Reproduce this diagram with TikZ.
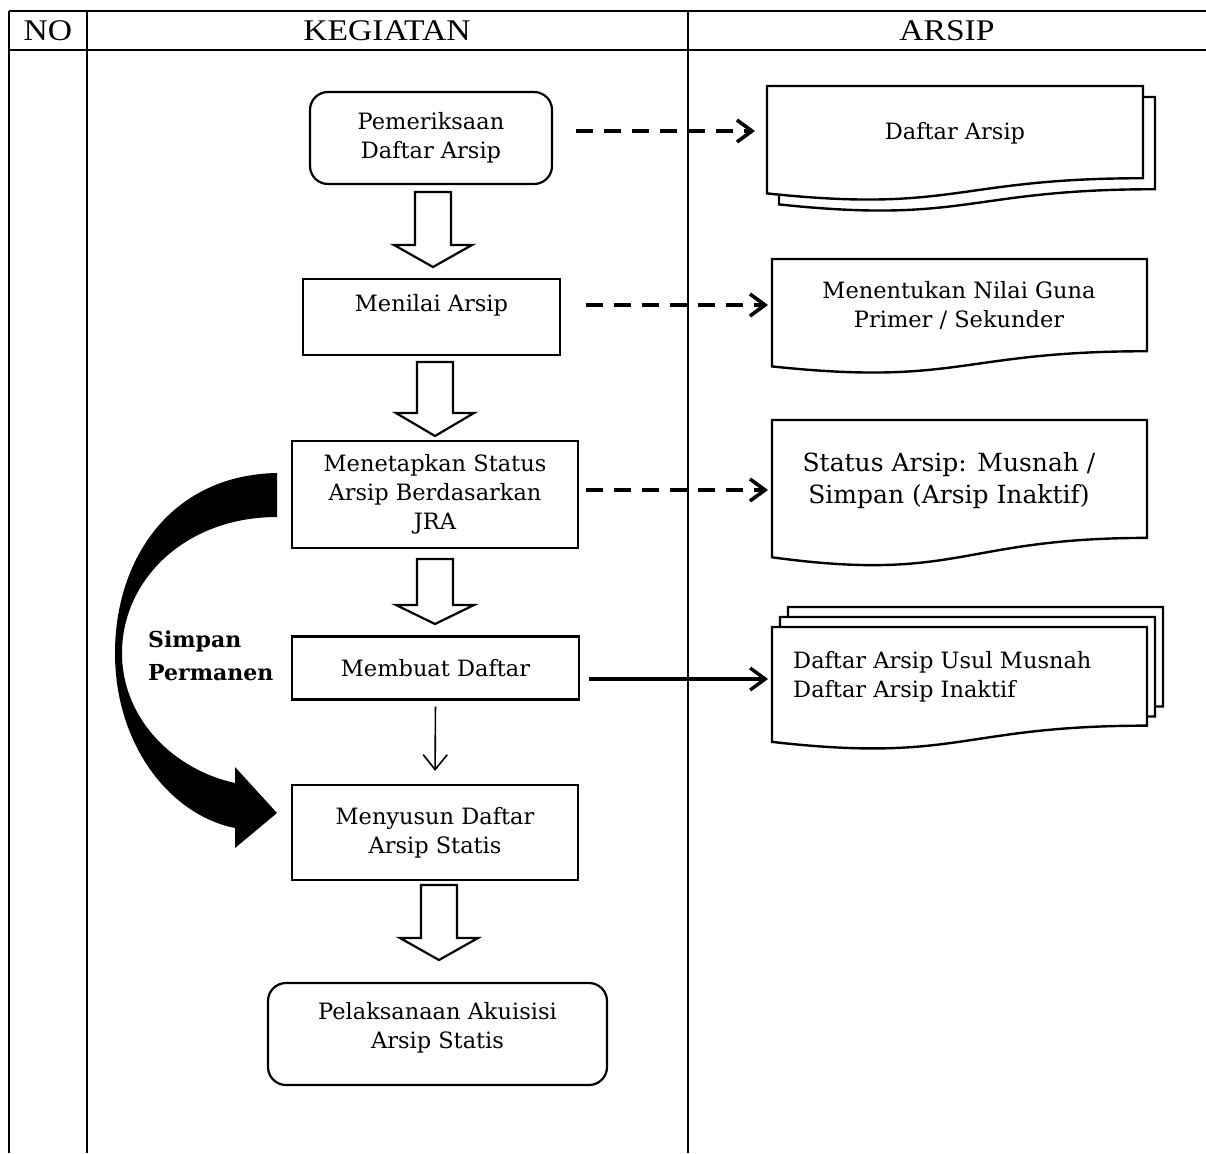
\documentclass[tikz,border=0pt]{standalone}
\usepackage{fontspec}
\setmainfont{DejaVu Serif}
\newfontfamily\hdrfont{Liberation Serif}
\usetikzlibrary{arrows.meta,calc}
\tikzset{
  gridline/.style={line width=2.4pt},
  midline/.style={line width=2pt},
  proc/.style={draw, line width=2.2pt, rectangle, align=center, inner sep=0pt,
    font=\fontsize{22.5}{29}\selectfont},
  term/.style={proc, rounded corners=18pt},
  blk/.style={draw, line width=2.2pt, fill=white, line join=miter},
  docline/.style={draw, line width=2.4pt, fill=white},
  doctext/.style={font=\fontsize{22.5}{29}\selectfont, align=center, inner sep=0pt},
  hdr/.style={font=\hdrfont\fontsize{30}{32}\selectfont, inner sep=0pt},
  dasharr/.style={line width=3.6pt, dash pattern=on 17pt off 11pt,
    -{Straight Barb[length=15pt,width=22pt]}},
  solidarr/.style={line width=3.4pt, -{Straight Barb[length=15pt,width=22pt]}},
  thinarr/.style={line width=1.6pt, -{Straight Barb[length=15pt,width=24pt]}},
}
\newcommand\docshape[4]{%
  \path[docline] (#1,#2) -- (#3,#2) -- (#3,{#2+0.802*#4})
    .. controls ({(#1+#3)/2},{#2+0.802*#4}) and ({(#1+#3)/2},{#2+1.1075*#4})
    .. (#1,{#2+0.934*#4}) -- cycle;}
\newcommand\blockarrow[4]{%
  \draw[blk] ({#1-18},#2) -- ({#1+18},#2) -- ({#1+18},#3) -- ({#1+39},#3)
    -- (#1,#4) -- ({#1-39},#3) -- ({#1-18},#3) -- cycle;}
\begin{document}
\begin{tikzpicture}[x=1pt,y=-1pt]
\useasboundingbox (0,0) rectangle (1206,1153);
% table
\draw[gridline] (9,11) -- (1206,11);
\draw[gridline] (9,50) -- (1206,50);
\draw[gridline] (9,11) -- (9,1153);
\draw[gridline] (87,11) -- (87,1153);
\draw[midline] (688,11) -- (688,1153);
\node[hdr] (hno) at (48,31) {\scalebox{1.12}[1]{NO}};
\node[hdr] (hkeg) at (387,31) {\scalebox{1.12}[1]{KEGIATAN}};
\node[hdr] (hars) at (947,31) {\scalebox{1.12}[1]{ARSIP}};

% process boxes
\node[term, minimum width=242pt, minimum height=92pt] (p1) at (431,138) {Pemeriksaan\\Daftar Arsip};
\node[proc, minimum width=257pt, minimum height=76pt] (p2) at (431.5,317) {Menilai Arsip\\\mbox{}};
\node[proc, minimum width=286pt, minimum height=107pt] (p3) at (435,494.5) {Menetapkan Status\\Arsip Berdasarkan\\JRA};
\node[proc, minimum width=287pt, minimum height=63pt] (p4) at (435.5,668) {Membuat Daftar};
\node[proc, minimum width=286pt, minimum height=95pt] (p5) at (435,832.5) {Menyusun Daftar\\Arsip Statis};
\node[term, minimum width=339pt, minimum height=102pt] (p6) at (437.5,1034) {Pelaksanaan Akuisisi\\Arsip Statis\\[-12pt]\mbox{}};

% block arrows
\blockarrow{433}{192}{245}{267}
\blockarrow{435}{362}{413}{436}
\blockarrow{435}{559}{605}{624}
\blockarrow{439}{885}{938}{960}

% thin arrow
\draw[thinarr, shorten <=6pt, shorten >=13pt] (p4.south) -- (p5.north);

% curved bold arrow (Simpan Permanen)
\fill[black] (277,473) .. controls (170,475) and (115,560) .. (115,653)
  .. controls (115,745) and (170,815) .. (235,828) -- (235,848) -- (277,813)
  -- (235,767) -- (235,783) .. controls (175,770) and (122,720) .. (122,653)
  .. controls (122,580) and (185,517) .. (277,517) -- cycle;
\node[font=\bfseries\fontsize{22}{33}\selectfont, align=left, anchor=west, inner sep=0pt] (sp) at (148,656) {Simpan\\Permanen};

% documents
\docshape{779}{97}{1155}{115}
\docshape{767}{86}{1143}{115}
\node[doctext] (d1) at (955,133) {Daftar Arsip};
\docshape{772}{259}{1147}{115}
\node[doctext] (d2) at (959,305) {Menentukan Nilai Guna\\Primer / Sekunder};
\docshape{772}{420}{1147}{147}
\node[doctext, font=\fontsize{25}{32}\selectfont] (d3) at (949,481) {Status Arsip: Musnah /\\Simpan (Arsip Inaktif)};
\docshape{788}{607}{1163}{124}
\docshape{780}{617}{1155}{124}
\docshape{772}{627}{1147}{123}
\node[doctext, align=left, anchor=west] (d4) at (793,677) {Daftar Arsip Usul Musnah\\Daftar Arsip Inaktif};

\coordinate (d1w) at (767,131);
\coordinate (d2w) at (772,305);
\coordinate (d3w) at (772,490);
\coordinate (d4w) at (772,679);

% connectors to documents
\draw[dasharr, shorten <=23pt, shorten >=12pt] (p1.east |- d1w) -- (d1w);
\draw[dasharr, shorten <=25pt, shorten >=4pt] (p2.east |- d2w) -- (d2w);
\draw[dasharr, shorten <=7pt, shorten >=4pt] (p3.east |- d3w) -- (d3w);
\draw[solidarr, shorten <=9pt, shorten >=4pt] (p4.east |- d4w) -- (d4w);
\end{tikzpicture}
\end{document}
